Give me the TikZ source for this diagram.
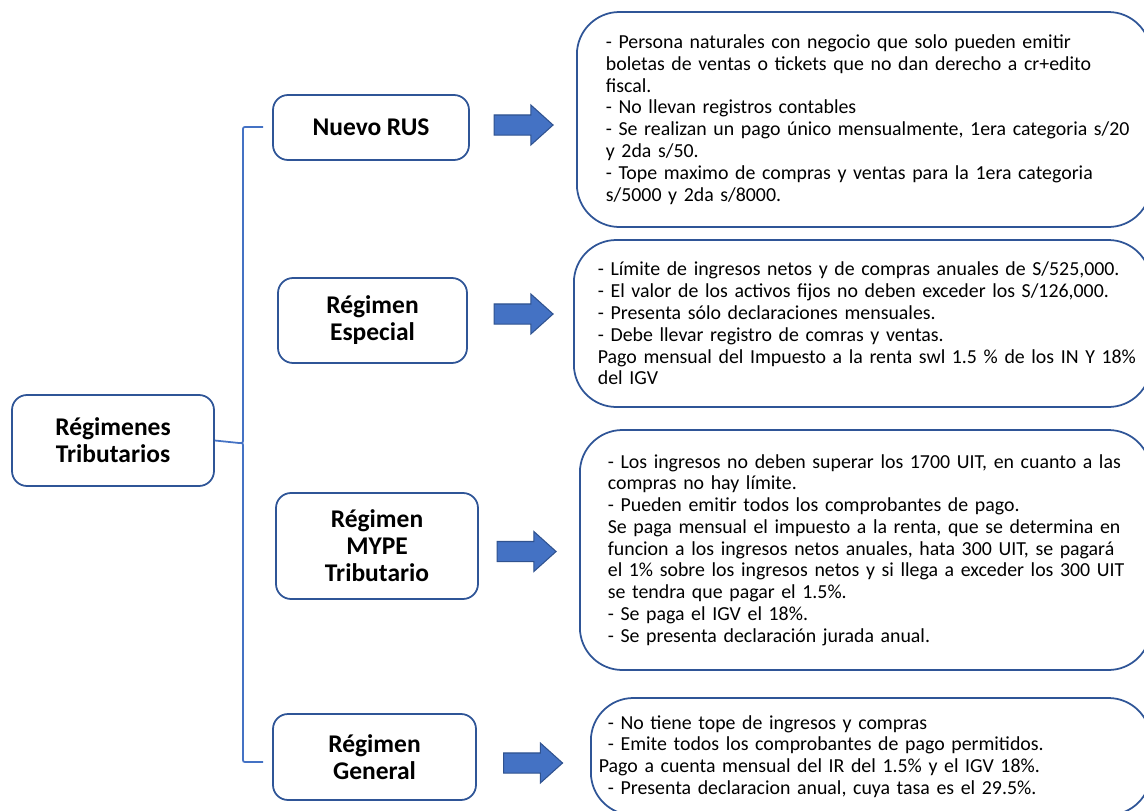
\documentclass[tikz,border=0pt]{standalone}
\usepackage{fontspec}
\setmainfont{Carlito}
\usetikzlibrary{shapes.arrows}
\definecolor{boxblue}{HTML}{2F5597}
\definecolor{fillblue}{HTML}{4472C4}
\definecolor{edgeblue}{HTML}{2F528F}
\tikzset{
  regbox/.style={draw=boxblue,line width=1pt,rounded corners=0.3cm,fill=white,align=center,
    font=\fontsize{14.5}{15.4}\selectfont\bfseries,inner sep=0pt},
  infobox/.style={draw=boxblue,line width=1pt,rounded corners=0.85cm,fill=white,align=left,
    font=\fontsize{11.3}{12.4}\selectfont,inner ysep=0pt,anchor=west},
  bigarrow/.style={single arrow,draw=edgeblue,fill=fillblue,line width=0.6pt,inner xsep=0pt,
    inner ysep=0.19cm,minimum height=1.18cm,minimum width=0pt,single arrow head extend=0.2cm,
    single arrow tip angle=84,anchor=center}
}
\begin{document}
\begin{tikzpicture}
\useasboundingbox (0,0) rectangle (22.88,-16.22);
\clip (0,0) rectangle (22.88,-16.22);

%main box
\node[regbox,minimum width=4.04cm,minimum height=1.82cm] (root) at (2.26,-8.81) {R\'egimenes\\Tributarios};

%regime boxes
\node[regbox,minimum width=3.92cm,minimum height=1.30cm] (rus) at (7.42,-2.55) {Nuevo RUS};
\node[regbox,minimum width=3.78cm,minimum height=1.70cm] (esp) at (7.45,-6.41) {R\'egimen\\Especial};
\node[regbox,minimum width=4.04cm,minimum height=2.12cm] (mype) at (7.54,-10.92) {R\'egimen\\MYPE\\Tributario};
\node[regbox,minimum width=4.06cm,minimum height=1.72cm] (gen) at (7.49,-15.14) {R\'egimen\\General};

%brace
\coordinate (bt) at (5.26,-2.54);
\coordinate (bb) at (5.26,-15.24);
\coordinate (cusp) at (4.78,-8.86);
\draw[fillblue,line width=1pt] (bt) -- (4.94,-2.54) .. controls (4.86,-2.54) .. (4.86,-2.62)
  -- (4.86,-8.78) .. controls (4.86,-8.86) .. (cusp) -- (root.east);
\draw[fillblue,line width=1pt] (cusp) .. controls (4.86,-8.86) .. (4.86,-8.94)
  -- (4.86,-15.16) .. controls (4.86,-15.24) .. (4.94,-15.24) -- (bb);

%arrows
\node[bigarrow] (a1) at (10.36,-2.50) {};
\node[bigarrow] (a2) at (10.36,-6.28) {};
\node[bigarrow] (a3) at (10.42,-11.03) {};
\node[bigarrow] (a4) at (10.55,-15.26) {};

%description boxes
\node[infobox,minimum width=11.48cm,minimum height=4.30cm,text width=10.32cm,inner xsep=0.58cm] (t1) at (11.52,-2.39) {%
- Persona naturales con negocio que solo pueden emitir\\
boletas de ventas o tickets que no dan derecho a cr+edito\\
fiscal.\\
- No llevan registros contables\\
\mbox{- Se realizan un pago \'unico mensualmente, 1era categoria s/20}\\
y 2da s/50.\\
- Tope maximo de compras y ventas para la 1era categoria\\
s/5000 y 2da s/8000.};

\node[infobox,minimum width=11.54cm,minimum height=3.34cm,text width=10.58cm,inner xsep=0.48cm] (t2) at (11.46,-6.47) {%
- L\'imite de ingresos netos y de compras anuales de S/525,000.\\
- El valor de los activos fijos no deben exceder los S/126,000.\\
- Presenta s\'olo declaraciones mensuales.\\
- Debe llevar registro de comras y ventas.\\
\mbox{Pago mensual del Impuesto a la renta swl 1.5 \% de los IN Y 18\%}\\
del IGV};

\node[infobox,minimum width=11.42cm,minimum height=4.80cm,text width=10.3cm,inner xsep=0.56cm] (t3) at (11.58,-11.00) {%
- Los ingresos no deben superar los 1700 UIT, en cuanto a las\\
compras no hay l\'imite.\\
- Pueden emitir todos los comprobantes de pago.\\
Se paga mensual el impuesto a la renta, que se determina en\\
funcion a los ingresos netos anuales, hata 300 UIT, se pagar\'a\\
\mbox{el 1\% sobre los ingresos netos y si llega a exceder los 300 UIT}\\
se tendra que pagar el 1.5\%.\\
- Se paga el IGV el 18\%.\\
- Se presenta declaraci\'on jurada anual.};

\node[infobox,minimum width=11.20cm,minimum height=2.34cm,text width=10.52cm,inner xsep=0.34cm] (t4) at (11.80,-15.13) {%
- No tiene tope de ingresos y compras\\
- Emite todos los comprobantes de pago permitidos.\\
\hspace*{-0.18cm}Pago a cuenta mensual del IR del 1.5\% y el IGV 18\%.\\
- Presenta declaracion anual, cuya tasa es el 29.5\%.};
\end{tikzpicture}
\end{document}
